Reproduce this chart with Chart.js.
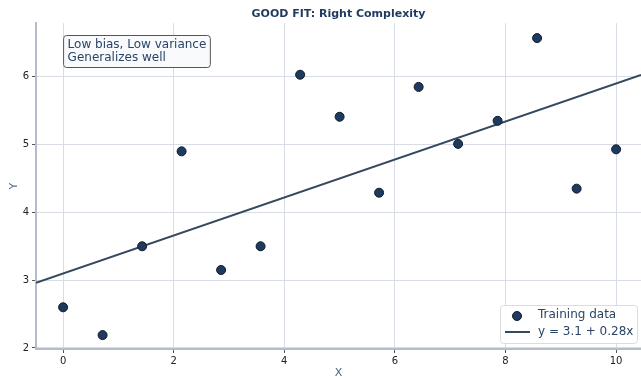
<!DOCTYPE html>
<html><head><meta charset="utf-8">
<script src="https://cdn.jsdelivr.net/npm/chart.js@4"></script>
<style>html,body{margin:0;padding:0;background:#fff;overflow:hidden}#c{display:block}</style>
</head><body>
<canvas id="c" width="641" height="380"></canvas>
<script>
const xValues = [0, 0.714, 1.429, 2.143, 2.857, 3.571, 4.286, 5.0, 5.714, 6.429, 7.143, 7.857, 8.571, 9.286, 10.0];
const yValues = [2.60, 2.19, 3.50, 4.90, 3.15, 3.50, 6.03, 5.41, 4.29, 5.85, 5.01, 5.35, 6.57, 4.35, 4.93];
const fitIntercept = 3.1;
const fitSlope = 0.28;
const lineX = [-0.49, 10.45];
const xTicks = [0, 2, 4, 6, 8, 10];
const yTicks = [2, 3, 4, 5, 6];
const titleText = 'GOOD FIT: Right Complexity';
const noteLines = ['Low bias, Low variance', 'Generalizes well'];
const seriesNames = ['Training data', 'y = 3.1 + 0.28x'];

const FONT = "'DejaVu Sans', sans-serif";
const navy = '#1f3a5f';
const textNavy = '#2a4468';

const scatterData = xValues.map((x, i) => ({x, y: yValues[i]}));
const lineData = lineX.map(x => ({x, y: fitIntercept + fitSlope * x}));
const zeroPad = () => ({left: 0, right: 0, top: 0, bottom: 0});

const overlay = {
  id: 'overlay',
  afterDraw(chart) {
    const ctx = chart.ctx;
    const xs = chart.scales.x;
    ctx.save();
    ctx.font = '12px ' + FONT;
    const bx = xs.getPixelForValue(0) + 0.5, by = 35.5;
    const w = Math.max(...noteLines.map(t => ctx.measureText(t).width)) + 8;
    const h = 32;
    ctx.beginPath();
    ctx.roundRect(bx, by, w, h, 3);
    ctx.fillStyle = 'rgba(248,250,252,0.95)';
    ctx.fill();
    ctx.strokeStyle = '#555555';
    ctx.lineWidth = 1;
    ctx.stroke();
    ctx.fillStyle = textNavy;
    ctx.textBaseline = 'middle';
    noteLines.forEach((t, i) => ctx.fillText(t, bx + 4, by + 9 + i * 13));
    const lx = 500.5, ly = 305.5, lw = 137, lh = 38;
    ctx.beginPath();
    ctx.roundRect(lx, ly, lw, lh, 3);
    ctx.fillStyle = 'rgba(255,255,255,0.9)';
    ctx.fill();
    ctx.strokeStyle = '#dcdcdc';
    ctx.stroke();
    ctx.beginPath();
    ctx.arc(517, 316, 4.5, 0, Math.PI * 2);
    ctx.fillStyle = '#1f3a5f';
    ctx.fill();
    ctx.strokeStyle = '#0d1b2a';
    ctx.lineWidth = 1;
    ctx.stroke();
    ctx.beginPath();
    ctx.moveTo(505, 332); ctx.lineTo(530, 332);
    ctx.strokeStyle = '#34495e';
    ctx.lineWidth = 2;
    ctx.stroke();
    ctx.fillStyle = textNavy;
    ctx.font = '12px ' + FONT;
    ctx.fillText(seriesNames[0], 538, 315);
    ctx.fillText(seriesNames[1], 538, 332);
    ctx.restore();
  }
};

new Chart(document.getElementById('c'), {
  type: 'scatter',
  data: {
    datasets: [
      {label: seriesNames[1], type: 'line', data: lineData, borderColor: '#34495e', borderWidth: 2, pointRadius: 0, fill: false, order: 2},
      {label: seriesNames[0], data: scatterData, backgroundColor: '#1f3a5f', borderColor: '#0d1b2a', borderWidth: 1, pointRadius: 4.5, order: 1}
    ]
  },
  options: {
    responsive: false,
    animation: false,
    devicePixelRatio: 1,
    layout: {padding: 0, autoPadding: false},
    plugins: {
      legend: {display: false},
      tooltip: {enabled: false},
      title: {display: true, fullSize: false, text: titleText, color: navy, font: {family: FONT, size: 11, weight: 'bold'}, padding: {top: 8, bottom: 2}}
    },
    scales: {
      x: {
        type: 'linear', min: lineX[0], max: lineX[1], bounds: 'data',
        afterBuildTicks: s => { s.ticks = xTicks.map(v => ({value: v})); },
        afterFit: s => { s.height = 31; s.paddingLeft = 0; s.paddingRight = 0; s.getPadding = zeroPad; },
        ticks: {color: '#222', font: {family: FONT, size: 10}, padding: 2, maxRotation: 0},
        grid: {color: '#d8dce6', lineWidth: 1, tickLength: 4, tickColor: '#555'},
        border: {display: true, color: '#b4bccb', width: 2},
        title: {display: true, text: 'X', color: '#4a5f7f', font: {family: FONT, size: 11}, padding: {top: 0, bottom: 0}}
      },
      y: {
        type: 'linear', min: 1.985, max: 6.79,
        afterBuildTicks: s => { s.ticks = yTicks.map(v => ({value: v})); },
        afterFit: s => { s.width = 36; s.paddingTop = 0; s.paddingBottom = 0; s.getPadding = zeroPad; },
        ticks: {color: '#222', font: {family: FONT, size: 10}, padding: 3},
        grid: {color: '#d8dce6', lineWidth: 1, tickLength: 4, tickColor: '#555'},
        border: {display: true, color: '#b4bccb', width: 2},
        title: {display: true, text: 'Y', color: '#5a6f8f', font: {family: FONT, size: 11}, padding: {top: 8, bottom: 0}}
      }
    }
  },
  plugins: [overlay]
});
</script>
</body></html>
